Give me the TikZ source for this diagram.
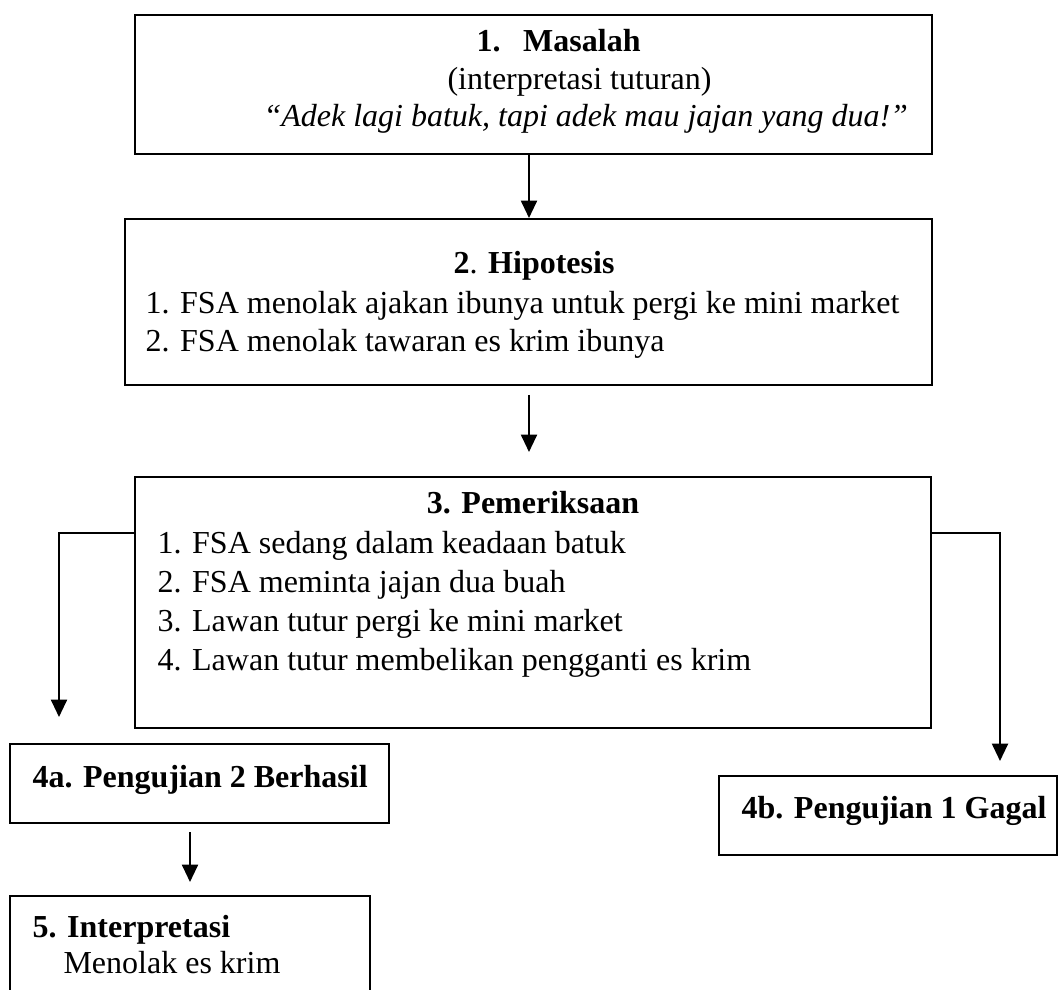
\documentclass[tikz,border=0pt]{standalone}
\usepackage{fontspec}
\setmainfont{Liberation Serif}
\usepackage{tikz}
\usetikzlibrary{positioning}
\usetikzlibrary{arrows.meta, fit}

\begin{document}
\begin{tikzpicture}[x=0.375pt, y=-0.375pt]

\tikzset{box/.style={
		draw, line width=0.75pt,
		inner sep=0pt
	},
	flow/.style={
		line width=0.75pt,
		-{Triangle[width=6pt,length=6.5pt]}
	},
	txt/.style={
		anchor=base west,
		inner sep=0pt,
		font=\fontsize{12}{14}\selectfont
	},
	boldtxt/.style={
		txt,
		font=\fontsize{12}{14}\selectfont\bfseries
	},
	title/.style={
		boldtxt, anchor=base
	}
}
\useasboundingbox (0,0) rectangle (1059,990);
\clip (0,0) rectangle (1059,990);

% kotak
\node[box, fit={(135,15) (932,154)}] (masalah) {};
\node[box, fit={(125,219) (932,385)}] (hipotesis) {};
\node[box, fit={(135,477) (931,728)}] (pemeriksaan) {};
\node[box, fit={(10,744) (389,823)}] (berhasil) {};
\node[box, fit={(719,776) (1057,855)}] (gagal) {};
\node[box, fit={(10,896) (370,1010)}] (interpretasi) {};

% teks
\node[boldtxt] (judul1) at (476,52) {1.\hskip 8.5pt Masalah};
\node[txt, anchor=base east] (tuturan) at (712,90) {(interpretasi tuturan)};
\node[txt, font=\fontsize{12}{14}\selectfont\itshape] (kutipan) at (263,127) {“Adek lagi batuk, tapi adek mau jajan yang dua!”};

\node[title] (judul2) at (534,274) {2\textmd{.} Hipotesis};
\node[txt] (h1) at (145,314) {1. FSA menolak ajakan ibunya untuk pergi ke mini market};
\node[txt] (h2) at (145,352) {2. FSA menolak tawaran es krim ibunya};

\node[title] (judul3) at (533,514) {3. Pemeriksaan};
\node[txt] (p1) at (157,553) {1. FSA sedang dalam keadaan batuk};
\node[txt] (p2) at (157,592) {2. FSA meminta jajan dua buah};
\node[txt] (p3) at (157,631) {3. Lawan tutur pergi ke mini market};
\node[txt] (p4) at (157,670) {4. Lawan tutur membelikan pengganti es krim};

\node[boldtxt] (judul4a) at (32,787) {4a. Pengujian 2 Berhasil};
\node[boldtxt] (judul4b) at (741,818) {4b. Pengujian 1 Gagal};
\node[boldtxt] (judul5) at (32,937) {5. Interpretasi};
\node[txt] (menolak) at (63,973) {Menolak es krim};

% panah
\coordinate (a1) at (529,154);
\coordinate (a2top) at (529,395);
\coordinate (a2tip) at (529,452);
\coordinate (kiri) at (135,533);
\coordinate (kiritip) at (59,717);
\coordinate (kanan) at (931,533);
\coordinate (kanantip) at (1000,761);
\coordinate (a4top) at (190,832);
\coordinate (a4tip) at (190,882);

\draw[flow] (a1) -- (a1 |- hipotesis.north);
\draw[flow] (a2top) -- (a2tip);
\draw[flow] (kiri) -| (kiritip);
\draw[flow] (kanan) -| (kanantip);
\draw[flow] (a4top) -- (a4tip);

\end{tikzpicture}
\end{document}
